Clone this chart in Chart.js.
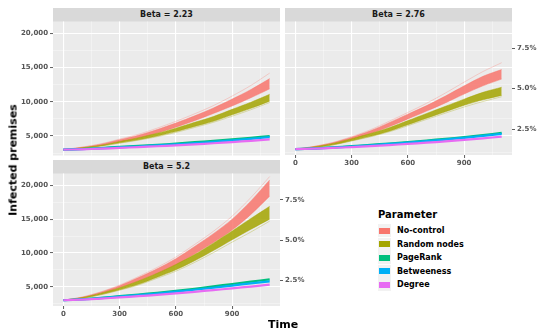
<!DOCTYPE html>
<html>
<head>
<meta charset="utf-8">
<script src="https://cdn.jsdelivr.net/npm/chart.js@4.4.1/dist/chart.umd.min.js"></script>
<style>
  body { margin: 0; background: #fff; font-family: 'DejaVu Sans', sans-serif; }
  #wrap { position: relative; width: 550px; height: 333px; overflow: hidden; }
  canvas { position: absolute; }
  .strip { position: absolute; background: #D9D9D9; color: #1A1A1A; font-size: 8px; font-weight: bold;
           text-align: center; line-height: 14px; height: 14px; }
  .title { position: absolute; font-size: 11px; font-weight: bold; color: #000; white-space: nowrap; }
  #legend { position: absolute; left: 378px; top: 209px; }
  #legend .lt { font-size: 10px; font-weight: bold; color: #000; margin-bottom: 4px; }
  #legend .row { height: 13.5px; display: flex; align-items: center; }
  #legend .key { width: 13px; height: 13px; background: #F2F2F2; position: relative; margin-right: 6px; }
  #legend .key i { position: absolute; left: 1px; top: 3.5px; width: 11px; height: 6px; }
  #legend .lab { font-size: 8px; font-weight: bold; color: #000; }
</style>
</head>
<body>
<div id="wrap">
  <div class="strip" style="left:53px;top:8px;width:227px">Beta = 2.23</div>
  <div class="strip" style="left:285px;top:8px;width:227px">Beta = 2.76</div>
  <div class="strip" style="left:53px;top:160px;width:227px">Beta = 5.2</div>
  <canvas id="pA"></canvas>
  <canvas id="pB"></canvas>
  <canvas id="pC"></canvas>
  <div class="title" style="left:13px;top:160px;transform:translate(-50%,-50%) rotate(-90deg)">Infected premises</div>
  <div class="title" style="left:283px;top:324px;transform:translate(-50%,-50%)">Time</div>
  <div id="legend"></div>
</div>
<script>
// ---- data ----
const times = [0, 100, 200, 300, 400, 500, 600, 700, 800, 900, 1000, 1100];
const seriesNames = ['No-control', 'Random nodes', 'PageRank', 'Betweeness', 'Degree'];
const seriesColors = ['#F8766D', '#A3A500', '#00BF7D', '#00B0F6', '#E76BF3'];
const betaLabels = ['Beta = 2.23', 'Beta = 2.76', 'Beta = 5.2'];

// Beta = 2.23
const b1NoCtrlMax = [3000, 3380, 3860, 4550, 5250, 6150, 7150, 8250, 9450, 10850, 12400, 14200];
const b1NoCtrlHi  = [3000, 3350, 3800, 4450, 5100, 5950, 6900, 7950, 9100, 10400, 11800, 13400];
const b1NoCtrlLo  = [3000, 3250, 3600, 4150, 4700, 5450, 6300, 7250, 8300, 9400, 10600, 11900];
const b1RandHi    = [3000, 3280, 3650, 4200, 4750, 5400, 6150, 7000, 7850, 8900, 9950, 11100];
const b1RandLo    = [3000, 3220, 3550, 4000, 4450, 5000, 5650, 6400, 7150, 8100, 9050, 10100];
const b1RandMin   = [3000, 3200, 3520, 3950, 4380, 4900, 5520, 6250, 7000, 7900, 8850, 9900];
const b1PageRank  = [3000, 3100, 3250, 3400, 3550, 3700, 3900, 4100, 4300, 4500, 4750, 5000];
const b1Between   = [3000, 3080, 3200, 3330, 3470, 3620, 3780, 3950, 4150, 4350, 4580, 4850];
const b1Degree    = [3000, 3060, 3150, 3260, 3380, 3500, 3640, 3780, 3940, 4110, 4300, 4500];

// Beta = 2.76
const b2NoCtrlMax = [3000, 3420, 4000, 4850, 5850, 7100, 8400, 9750, 11250, 12850, 14400, 15700];
const b2NoCtrlHi  = [3000, 3400, 3950, 4750, 5700, 6900, 8150, 9400, 10800, 12300, 13700, 14700];
const b2NoCtrlLo  = [3000, 3300, 3750, 4450, 5300, 6300, 7450, 8600, 9800, 11100, 12300, 13300];
const b2RandHi    = [3000, 3350, 3850, 4550, 5300, 6150, 7200, 8250, 9300, 10350, 11350, 12100];
const b2RandLo    = [3000, 3250, 3650, 4250, 4900, 5650, 6600, 7550, 8500, 9450, 10250, 10900];
const b2RandMin   = [3000, 3230, 3620, 4200, 4820, 5550, 6450, 7380, 8300, 9200, 10000, 10700];
const b2PageRank  = [3000, 3120, 3280, 3450, 3640, 3840, 4050, 4280, 4520, 4780, 5070, 5400];
const b2Between   = [3000, 3100, 3240, 3400, 3580, 3770, 3970, 4190, 4420, 4670, 4950, 5250];
const b2Degree    = [3000, 3080, 3190, 3320, 3460, 3610, 3780, 3960, 4150, 4360, 4590, 4850];

// Beta = 5.2
const b3NoCtrlMax = [3000, 3480, 4250, 5250, 6500, 7850, 9400, 11250, 13200, 15450, 18200, 21300];
const b3NoCtrlHi  = [3000, 3450, 4200, 5150, 6350, 7650, 9150, 10950, 12850, 15000, 17700, 20800];
const b3NoCtrlLo  = [3000, 3350, 4000, 4850, 5850, 6950, 8250, 9850, 11550, 13400, 15700, 18400];
const b3RandHi    = [3000, 3400, 4050, 4850, 5850, 7000, 8300, 9750, 11450, 13250, 15100, 16900];
const b3RandLo    = [3000, 3300, 3850, 4550, 5350, 6400, 7500, 8850, 10350, 11950, 13500, 15000];
const b3RandMin   = [3000, 3280, 3800, 4480, 5250, 6250, 7300, 8600, 10050, 11600, 13100, 14700];
const b3PageRank  = [3000, 3150, 3350, 3600, 3850, 4100, 4400, 4700, 5050, 5400, 5750, 6100];
const b3Between   = [3000, 3130, 3310, 3530, 3760, 4000, 4270, 4550, 4850, 5170, 5500, 5800];
const b3Degree    = [3000, 3100, 3250, 3420, 3600, 3800, 4020, 4250, 4500, 4760, 5030, 5300];

// axes
const xMajor = [0, 300, 600, 900];
const xMinor = [150, 450, 750, 1050];
const yMajor = [5000, 10000, 15000, 20000];
const yMinor = [2500, 7500, 12500, 17500];
const pctTicks = [2.5, 5.0, 7.5];
const totalPremises = 238000;   // secondary axis: % of all premises
const X_MIN = -55, X_MAX = 1155, Y_MIN = 2150, Y_MAX = 21750;

const TICK_FONT = { family: 'DejaVu Sans', size: 7, weight: 'bold', lineHeight: 1 };
const TICK_COL = '#555555';

function rgba(hex, a) {
  const n = parseInt(hex.slice(1), 16);
  return `rgba(${n >> 16},${(n >> 8) & 255},${n & 255},${a})`;
}
const pts = ys => ys.map((y, i) => ({ x: times[i], y }));

function band(lo, hi, color) {
  const base = { pointRadius: 0, tension: 0.3, borderWidth: 1, borderColor: rgba(color, 0.45) };
  return [
    { ...base, data: pts(lo), fill: false },
    { ...base, data: pts(hi), fill: '-1', backgroundColor: rgba(color, 0.85) },
  ];
}
function line(ys, color) {
  return { data: pts(ys), borderColor: color, borderWidth: 2.2, pointRadius: 0, tension: 0.3, fill: false };
}
// single stray simulation runs, drawn faintly under the bundles
function faint(ys, color) {
  return { data: pts(ys), borderColor: rgba(color, 0.3), borderWidth: 1, pointRadius: 0, tension: 0.3, fill: false };
}

// ggplot draws later series on top; Chart.js draws the first dataset on top
function panelDatasets(ncMax, ncHi, ncLo, rdHi, rdLo, rdMin, pr, bt, dg) {
  return [
    line(dg, seriesColors[4]),
    line(bt, seriesColors[3]),
    line(pr, seriesColors[2]),
    ...band(rdLo, rdHi, seriesColors[1]),
    faint(rdMin, seriesColors[1]),
    ...band(ncLo, ncHi, seriesColors[0]),
    faint(ncMax, seriesColors[0]),
  ];
}

const panelBg = {
  id: 'panelBg',
  beforeDraw(chart) {
    const { ctx, chartArea: a } = chart;
    ctx.save();
    ctx.fillStyle = '#EBEBEB';
    ctx.fillRect(a.left, a.top, a.right - a.left, a.bottom - a.top);
    ctx.restore();
  }
};

const isMajor = (list, v) => list.includes(v);
const gridOpts = major => ({
  color: c => isMajor(major, c.tick.value) ? '#FFFFFF' : 'rgba(255,255,255,0.75)',
  lineWidth: c => isMajor(major, c.tick.value) ? 1.1 : 0.5,
  tickColor: c => isMajor(major, c.tick.value) ? '#333333' : 'rgba(0,0,0,0)',
  tickLength: 3,
  tickWidth: 0.8,
});

function makePanel(id, pos, datasets, { showX, showY, showPct, leftW, rightW, padL, padR }) {
  const cv = document.getElementById(id);
  cv.width = pos.w; cv.height = pos.h;
  cv.style.left = pos.x + 'px'; cv.style.top = pos.y + 'px';
  cv.style.width = pos.w + 'px'; cv.style.height = pos.h + 'px';

  const scales = {
    x: {
      type: 'linear', min: X_MIN, max: X_MAX,
      afterBuildTicks: s => { s.ticks = [...xMajor, ...xMinor].sort((a, b) => a - b).map(v => ({ value: v })); },
      afterFit: s => { s.height = showX ? 20 : 0; },
      grid: { ...gridOpts(xMajor), drawTicks: showX },
      border: { display: false },
      ticks: { display: showX, font: TICK_FONT, color: TICK_COL, padding: 2, maxRotation: 0, autoSkip: false,
               callback: v => isMajor(xMajor, v) ? String(v) : '' },
    },
    y: {
      type: 'linear', min: Y_MIN, max: Y_MAX, position: 'left',
      afterBuildTicks: s => { s.ticks = [...yMinor, ...yMajor].sort((a, b) => a - b).map(v => ({ value: v })); },
      afterFit: s => { s.width = leftW; },
      grid: { ...gridOpts(yMajor), drawTicks: showY },
      border: { display: false },
      ticks: { display: showY, font: TICK_FONT, color: TICK_COL, padding: 2, autoSkip: false,
               callback: v => isMajor(yMajor, v) ? v.toLocaleString('en-US') : '' },
    },
  };
  if (showPct) {
    scales.y2 = {
      type: 'linear', min: Y_MIN, max: Y_MAX, position: 'right',
      afterBuildTicks: s => { s.ticks = pctTicks.map(p => ({ value: p / 100 * totalPremises })); },
      afterFit: s => { s.width = rightW; },
      grid: { drawOnChartArea: false, tickColor: '#333333', tickLength: 3, tickWidth: 0.8 },
      border: { display: false },
      ticks: { font: TICK_FONT, color: TICK_COL, padding: 2, autoSkip: false,
               callback: v => (v / totalPremises * 100).toFixed(1) + '%' },
    };
  }

  return new Chart(cv, {
    type: 'line',
    data: { datasets },
    options: {
      responsive: false, animation: false, devicePixelRatio: 1,
      layout: { padding: { left: padL, right: padR, top: 0, bottom: 0 } },
      plugins: { legend: { display: false }, tooltip: { enabled: false } },
      scales,
    },
    plugins: [panelBg],
  });
}

makePanel('pA', { x: 0, y: 16, w: 282, h: 145 },
  panelDatasets(b1NoCtrlMax, b1NoCtrlHi, b1NoCtrlLo, b1RandHi, b1RandLo, b1RandMin, b1PageRank, b1Between, b1Degree),
  { showX: false, showY: true, showPct: false, leftW: 53, rightW: 0, padL: 0, padR: 2 });

makePanel('pB', { x: 283, y: 16, w: 267, h: 159 },
  panelDatasets(b2NoCtrlMax, b2NoCtrlHi, b2NoCtrlLo, b2RandHi, b2RandLo, b2RandMin, b2PageRank, b2Between, b2Degree),
  { showX: true, showY: false, showPct: true, leftW: 0, rightW: 38, padL: 2, padR: 0 });

makePanel('pC', { x: 0, y: 168, w: 320, h: 158 },
  panelDatasets(b3NoCtrlMax, b3NoCtrlHi, b3NoCtrlLo, b3RandHi, b3RandLo, b3RandMin, b3PageRank, b3Between, b3Degree),
  { showX: true, showY: true, showPct: true, leftW: 53, rightW: 40, padL: 0, padR: 0 });

// legend
const lg = document.getElementById('legend');
lg.innerHTML = '<div class="lt">Parameter</div>' + seriesNames.map((n, i) =>
  `<div class="row"><span class="key"><i style="background:${seriesColors[i]}"></i></span><span class="lab">${n}</span></div>`
).join('');
</script>
</body>
</html>
